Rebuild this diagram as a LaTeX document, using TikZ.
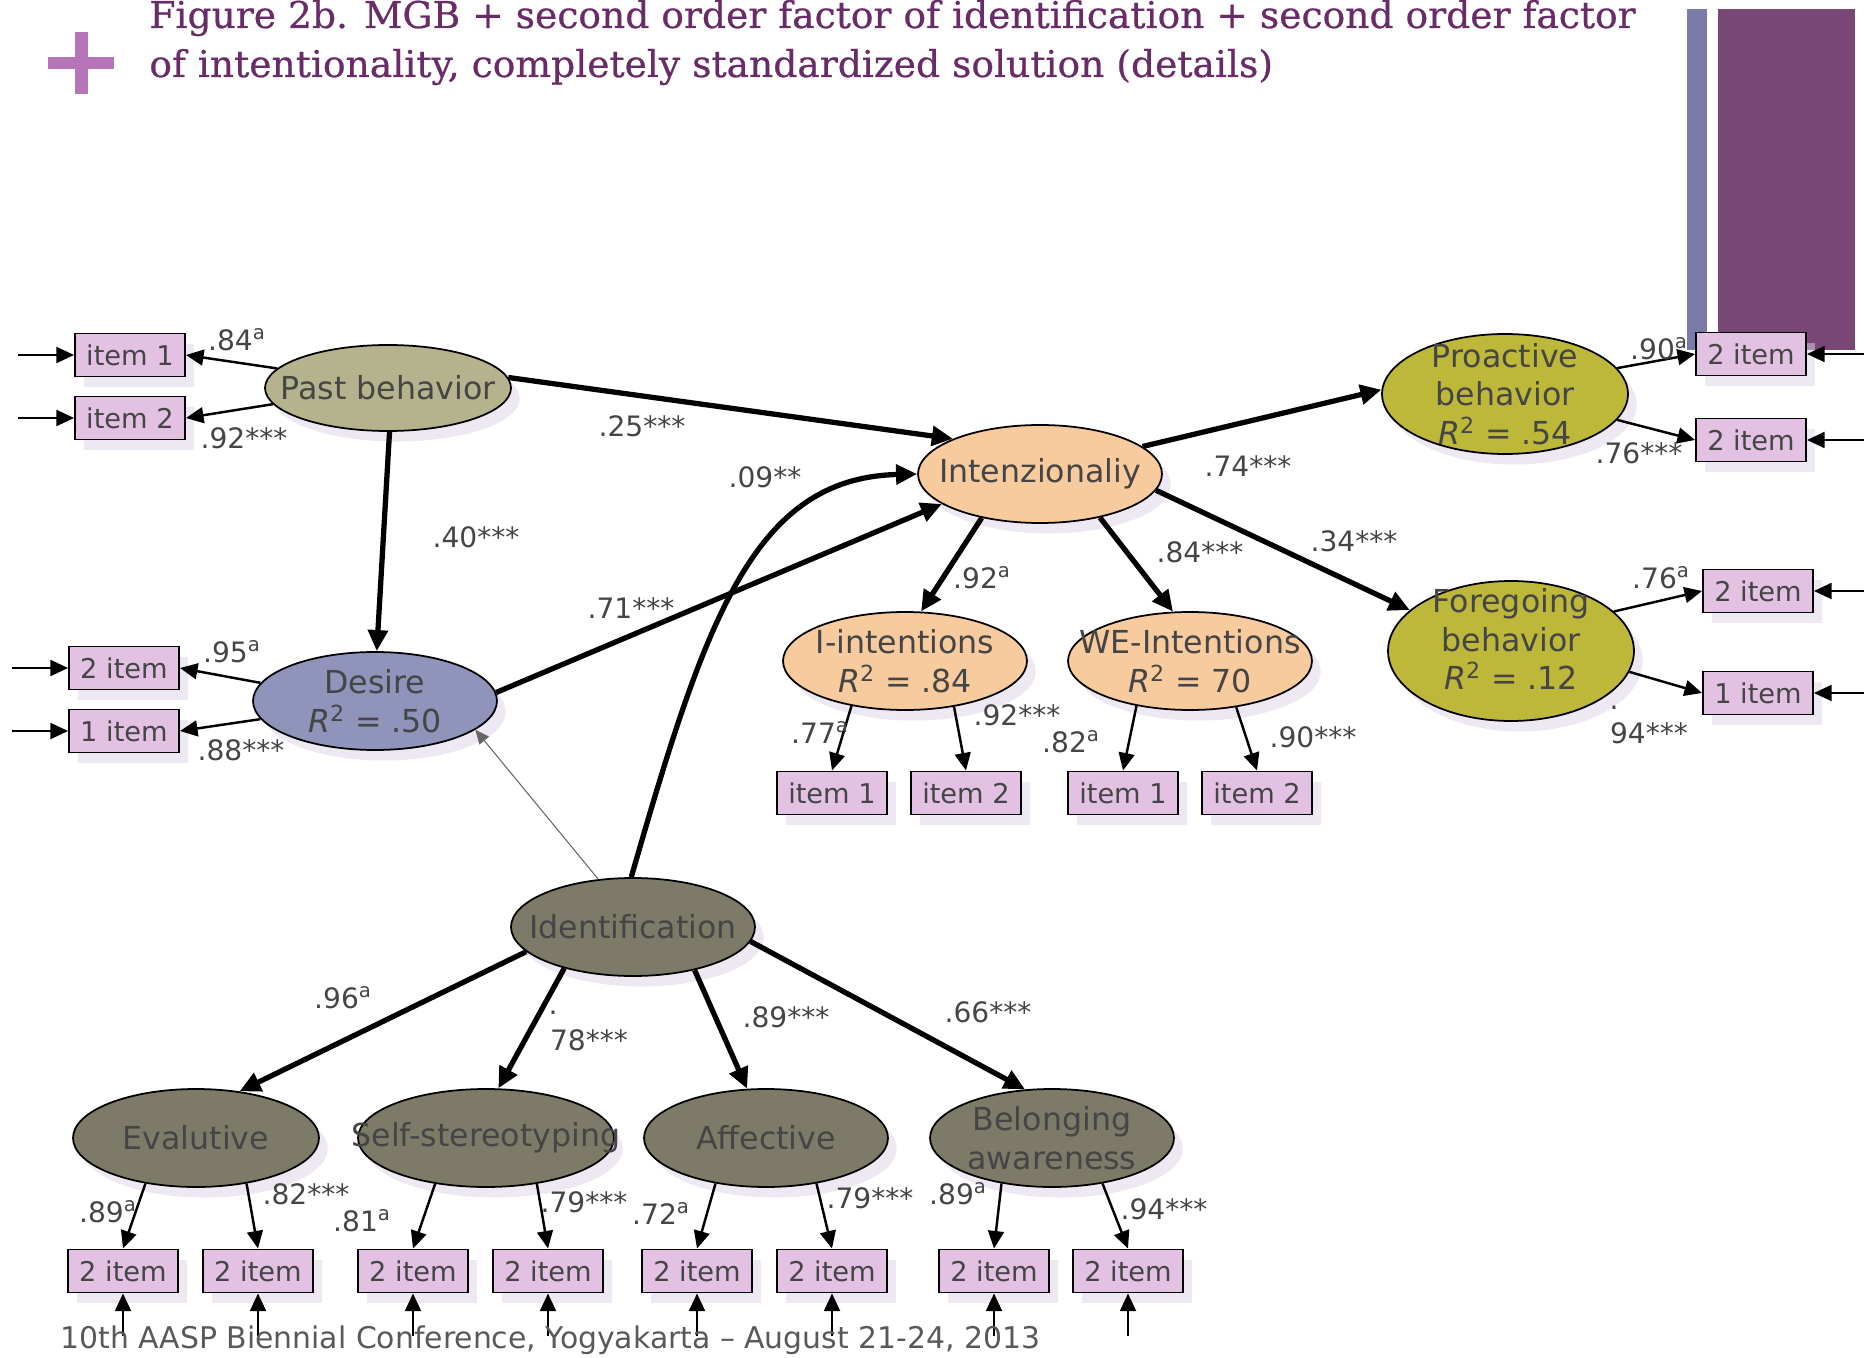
\documentclass[tikz,border=0pt]{standalone}
\usepackage{fontspec}
\setmainfont{DejaVu Sans}
\newfontfamily\titlefont[FakeStretch=1.02, FakeBold=0.6]{DejaVu Serif}
\usetikzlibrary{shapes.geometric, arrows.meta, shadows}
\definecolor{titlepurple}{HTML}{6A2C68}
\definecolor{pluspink}{HTML}{B674B8}
\definecolor{barblue}{HTML}{7A7BA8}
\definecolor{barpurple}{HTML}{7A4877}
\definecolor{pastfill}{HTML}{B5B38E}
\definecolor{desirefill}{HTML}{9093BA}
\definecolor{intfill}{HTML}{F7CB9E}
\definecolor{behfill}{HTML}{BEB83A}
\definecolor{identfill}{HTML}{7D7B67}
\definecolor{itemfill}{HTML}{E3C1E3}
\definecolor{shadowc}{HTML}{DDD2E7}
\definecolor{textgray}{HTML}{454545}

\begin{document}
\begin{tikzpicture}[x=0.02cm, y=-0.02cm,
    latent/.style={ellipse, draw=black, line width=1pt, inner sep=0pt, minimum width=4.88cm, minimum height=1.96cm,
        drop shadow={shadow xshift=5pt, shadow yshift=-6pt, fill=shadowc}},
    lattext/.style={text=textgray, font=\fontsize{18}{22}\selectfont, align=center, inner sep=0pt},
    item/.style={rectangle, draw=black, line width=1.1pt, fill=itemfill, text=textgray, inner sep=0pt,
        font=\fontsize{15.5}{18}\selectfont, minimum width=2.2cm, minimum height=0.86cm,
        drop shadow={shadow xshift=5pt, shadow yshift=-6pt, fill=shadowc}},
    coef/.style={text=textgray, font=\fontsize{16}{19}\selectfont, inner sep=0pt},
    bigarrow/.style={-{Triangle[length=12pt, width=11pt]}, line width=3pt},
    arrow/.style={-{Triangle[length=10pt, width=9pt]}, line width=1.4pt},
    grayarrow/.style={-{Triangle[length=8pt, width=7pt]}, line width=0.6pt, black!60}
]
\useasboundingbox (0,0) rectangle (1874,1358);

% header
\fill[pluspink] (75,32) rectangle (88,94);
\fill[pluspink] (48,57) rectangle (114,69);
\fill[barblue] (1687,9) rectangle (1707,350);
\fill[barpurple] (1718,9) rectangle (1855,350);
\node[anchor=base west, inner sep=0pt, text=titlepurple, font=\titlefont\fontsize{21}{25}\selectfont] (title1) at (149,28)
    {Figure 2b. MGB + second order factor of identification + second order factor};
\node[anchor=base west, inner sep=0pt, text=titlepurple, font=\titlefont\fontsize{21}{25}\selectfont] (title2) at (149,77)
    {of intentionality, completely standardized solution (details)};

% latent variables
\node[latent, fill=pastfill, minimum width=4.92cm, minimum height=1.72cm, label={[lattext]center:Past behavior}] (past) at (388,388) {};
\node[latent, fill=desirefill, label={[lattext]center:{Desire\\\textit{R}\textsuperscript{2} = .50}}] (desire) at (375,701) {};
\node[latent, fill=intfill, label={[lattext]center:Intenzionaliy}] (intz) at (1040,474) {};
\node[latent, fill=behfill, minimum width=4.92cm, minimum height=2.4cm,
    label={[lattext]center:{Proactive\\behavior\\\textit{R}\textsuperscript{2} = .54}}] (pro) at (1505,394) {};
\node[latent, fill=behfill, minimum width=4.92cm, minimum height=2.8cm,
    label={[lattext, yshift=0.24cm]center:{Foregoing\\behavior\\\textit{R}\textsuperscript{2} = .12}}] (fore) at (1511,651) {};
\node[latent, fill=intfill, label={[lattext]center:{I-intentions\\\textit{R}\textsuperscript{2} = .84}}] (iint) at (905,661) {};
\node[latent, fill=intfill, label={[lattext]center:{WE-Intentions\\\textit{R}\textsuperscript{2} = 70}}] (we) at (1190,661) {};
\node[latent, fill=identfill, label={[lattext]center:Identification}] (ident) at (633,927) {};
\node[latent, fill=identfill, minimum width=4.92cm, label={[lattext]center:Evalutive}] (eval) at (196,1138) {};
\node[latent, fill=identfill, minimum width=5.12cm, label={[lattext]center:Self-stereotyping}] (self) at (486,1138) {};
\node[latent, fill=identfill, label={[lattext]center:Affective}] (aff) at (766,1138) {};
\node[latent, fill=identfill, label={[lattext]center:{Belonging\\awareness}}] (bel) at (1052,1138) {};

% observed items
\node[item] (pb1) at (130,355) {item 1};
\node[item] (pb2) at (130,418) {item 2};
\node[item] (de1) at (124,668) {2 item};
\node[item] (de2) at (124,731) {1 item};
\node[item] (pr1) at (1751,354) {2 item};
\node[item] (pr2) at (1751,440) {2 item};
\node[item] (fo1) at (1758,591) {2 item};
\node[item] (fo2) at (1758,693) {1 item};
\node[item] (ii1) at (832,793) {item 1};
\node[item] (ii2) at (966,793) {item 2};
\node[item] (we1) at (1123,793) {item 1};
\node[item] (we2) at (1257,793) {item 2};
\node[item] (b1) at (123,1271) {2 item};
\node[item] (b2) at (258,1271) {2 item};
\node[item] (b3) at (413,1271) {2 item};
\node[item] (b4) at (548,1271) {2 item};
\node[item] (b5) at (697,1271) {2 item};
\node[item] (b6) at (832,1271) {2 item};
\node[item] (b7) at (994,1271) {2 item};
\node[item] (b8) at (1128,1271) {2 item};

% error terms
\coordinate (pb1 in) at (18,355);
\coordinate (pb2 in) at (18,418);
\coordinate (de1 in) at (12,668);
\coordinate (de2 in) at (12,731);
\coordinate (pr1 in) at (1864,354);
\coordinate (pr2 in) at (1864,440);
\coordinate (fo1 in) at (1864,591);
\coordinate (fo2 in) at (1864,693);
\coordinate (b1 in) at (123,1336);
\coordinate (b2 in) at (258,1336);
\coordinate (b3 in) at (413,1336);
\coordinate (b4 in) at (548,1336);
\coordinate (b5 in) at (697,1336);
\coordinate (b6 in) at (832,1336);
\coordinate (b7 in) at (994,1336);
\coordinate (b8 in) at (1128,1336);
\draw[arrow] (pb1 in) -- (pb1);
\draw[arrow] (pb2 in) -- (pb2);
\draw[arrow] (de1 in) -- (de1);
\draw[arrow] (de2 in) -- (de2);
\draw[arrow] (pr1 in) -- (pr1);
\draw[arrow] (pr2 in) -- (pr2);
\draw[arrow] (fo1 in) -- (fo1);
\draw[arrow] (fo2 in) -- (fo2);
\draw[arrow] (b1 in) -- (b1);
\draw[arrow] (b2 in) -- (b2);
\draw[arrow] (b3 in) -- (b3);
\draw[arrow] (b4 in) -- (b4);
\draw[arrow] (b5 in) -- (b5);
\draw[arrow] (b6 in) -- (b6);
\draw[arrow] (b7 in) -- (b7);
\draw[arrow] (b8 in) -- (b8);

% structural paths
\draw[bigarrow] (past.272) -- (desire.88);
\draw[bigarrow] (past.5) -- (intz.158);
\draw[bigarrow] (desire.4) -- (intz.197);
\draw[bigarrow] (ident.92) .. controls (705,621) and (753,478) .. (intz.west);
\draw[grayarrow] (ident.126) -- (desire.344);
\draw[bigarrow] (intz.15) -- (pro.178);
\draw[bigarrow] (intz.352) -- (fore.158);
\draw[bigarrow] (intz.217) -- (iint.72);
\draw[bigarrow] (intz.324) -- (we.109);
\draw[bigarrow] (ident.193) -- (eval.47);
\draw[bigarrow] (ident.211) -- (self.76);
\draw[bigarrow] (ident.325) -- (aff.111);
\draw[bigarrow] (ident.353) -- (bel.119);

% loadings
\draw[arrow] (past.170) -- (pb1.east);
\draw[arrow] (past.188) -- (pb2.east);
\draw[arrow] (desire.171) -- (de1.east);
\draw[arrow] (desire.189) -- (de2.east);
\draw[arrow] (pro.13) -- (pr1.west);
\draw[arrow] (pro.347) -- (pr2.west);
\draw[arrow] (fore.21) -- (fo1.west);
\draw[arrow] (fore.350) -- (fo2.west);
\draw[arrow] (iint.220) -- (ii1.north);
\draw[arrow] (iint.317) -- (ii2.north);
\draw[arrow] (we.220) -- (we1.north);
\draw[arrow] (we.315) -- (we2.north);
\draw[arrow] (eval.222) -- (b1.north);
\draw[arrow] (eval.318) -- (b2.north);
\draw[arrow] (self.222) -- (b3.north);
\draw[arrow] (self.318) -- (b4.north);
\draw[arrow] (aff.222) -- (b5.north);
\draw[arrow] (aff.318) -- (b6.north);
\draw[arrow] (bel.222) -- (b7.north);
\draw[arrow] (bel.318) -- (b8.north);

% coefficients
\node[coef] (c-pb1) at (237,340) {.84\textsuperscript{a}};
\node[coef] (c-pb2) at (244,438) {.92***};
\node[coef] (c-de1) at (232,652) {.95\textsuperscript{a}};
\node[coef] (c-de2) at (241,750) {.88***};
\node[coef] (c-pd) at (476,537) {.40***};
\node[coef] (c-pi) at (642,426) {.25***};
\node[coef] (c-di) at (631,608) {.71***};
\node[coef] (c-idi) at (765,477) {.09**};
\node[coef] (c-pro) at (1248,466) {.74***};
\node[coef] (c-pr1) at (1659,349) {.90\textsuperscript{a}};
\node[coef] (c-pr2) at (1639,453) {.76***};
\node[coef] (c-fore) at (1354,541) {.34***};
\node[coef] (c-fo1) at (1661,578) {.76\textsuperscript{a}};
\node[coef] (c-fo2a) at (1614,708) {.};
\node[coef] (c-fo2b) at (1649,733) {94***};
\node[coef] (c-iint) at (982,578) {.92\textsuperscript{a}};
\node[coef] (c-we) at (1200,552) {.84***};
\node[coef] (c-ii1) at (820,732) {.77\textsuperscript{a}};
\node[coef] (c-ii2) at (1017,715) {.92***};
\node[coef] (c-we1) at (1071,742) {.82\textsuperscript{a}};
\node[coef] (c-we2) at (1313,737) {.90***};
\node[coef] (c-eval) at (343,998) {.96\textsuperscript{a}};
\node[coef] (c-selfa) at (553,1013) {.};
\node[coef] (c-selfb) at (589,1040) {78***};
\node[coef] (c-aff) at (786,1017) {.89***};
\node[coef] (c-bel) at (988,1012) {.66***};
\node[coef] (c-b1) at (108,1212) {.89\textsuperscript{a}};
\node[coef] (c-b2) at (306,1194) {.82***};
\node[coef] (c-b3) at (362,1221) {.81\textsuperscript{a}};
\node[coef] (c-b4) at (584,1202) {.79***};
\node[coef] (c-b5) at (661,1213) {.72\textsuperscript{a}};
\node[coef] (c-b6) at (870,1198) {.79***};
\node[coef] (c-b7) at (958,1194) {.89\textsuperscript{a}};
\node[coef] (c-b8) at (1164,1209) {.94***};

% footer
\node[anchor=base west, inner sep=0pt, text=black!65, font=\fontsize{17}{20}\selectfont] (footer) at (60,1348)
    {10th AASP Biennial Conference, Yogyakarta – August 21-24, 2013};
\end{tikzpicture}
\end{document}
